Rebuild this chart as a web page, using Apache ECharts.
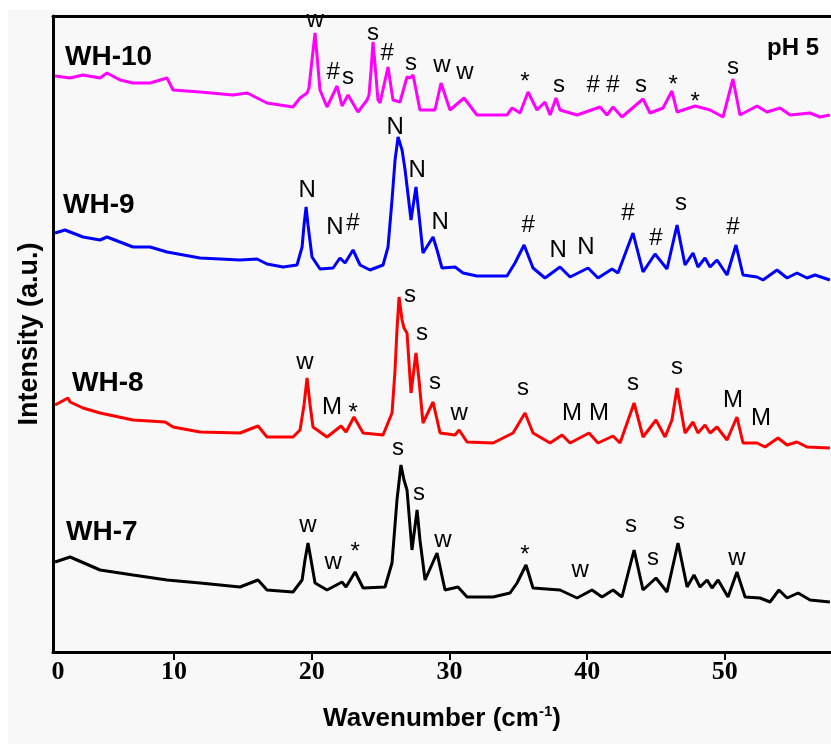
<!DOCTYPE html>
<html>
<head>
<meta charset="utf-8">
<title>WH XRD</title>
<script src="https://cdn.jsdelivr.net/npm/echarts@6.0.0/dist/echarts.min.js"></script>
<style>
  html, body { margin: 0; padding: 0; background: #fff; }
  .paper { position: absolute; left: 8px; top: 10px; width: 823px; height: 734px; background: #f8f8f8; }
  #chart { position: absolute; left: 0; top: 0; width: 831px; height: 744px; }
</style>
</head>
<body>
<div class="paper"></div>
<div id="chart"></div>
<script>
// x: wavenumber, y: intensity (a.u., traces already offset)
const wh10 = [
  [1.36, 576], [2.45, 574], [3.39, 577], [4.63, 574], [5.13, 579], [6.08, 572], [7.02, 569], [8.26, 569],
  [9.49, 574], [9.93, 562], [11.89, 560], [14.28, 557], [15.32, 559], [16.75, 549], [18.64, 545],
  [19.15, 554], [19.66, 559], [19.80, 564], [20.02, 592], [20.24, 619], [20.38, 597], [20.60, 562],
  [21.11, 545], [21.84, 566], [22.20, 546], [22.64, 557], [23.36, 540], [24.02, 552], [24.16, 557],
  [24.31, 582], [24.45, 610], [24.60, 587], [24.81, 552], [24.96, 549], [25.54, 585], [25.90, 552],
  [26.41, 550], [26.92, 575], [27.14, 574], [27.36, 577], [27.86, 542], [28.95, 542], [29.39, 569],
  [30.04, 542], [31.06, 554], [32.00, 537], [33.17, 537], [34.18, 537], [34.55, 544], [35.13, 539],
  [35.71, 560], [36.36, 542], [36.94, 550], [37.31, 537], [37.74, 554], [38.03, 542], [39.27, 537],
  [40.94, 545], [41.44, 537], [41.88, 545], [42.53, 535], [44.06, 553], [44.57, 539], [45.51, 544],
  [46.16, 561], [46.53, 540], [47.84, 546], [48.93, 542], [49.87, 535], [50.59, 573], [51.10, 537],
  [52.34, 546], [53.06, 540], [54.01, 544], [54.74, 537], [56.19, 539], [56.91, 535], [57.63, 537]
];
const wh9 = [
  [1.36, 419], [2.08, 422], [3.39, 415], [4.63, 412], [5.13, 415], [7.02, 405], [8.26, 405], [9.49, 400],
  [11.89, 394], [14.79, 392], [16.03, 393], [16.75, 388], [17.92, 385], [18.93, 387], [19.30, 405],
  [19.44, 427], [19.59, 445], [19.73, 427], [20.02, 395], [20.60, 383], [21.55, 384], [22.05, 394],
  [22.42, 389], [23.00, 402], [23.51, 387], [24.23, 382], [25.18, 387], [25.54, 405], [25.83, 452],
  [26.05, 492], [26.27, 515], [26.56, 502], [26.78, 482], [27.21, 432], [27.57, 465], [27.79, 437],
  [28.08, 399], [28.81, 415], [29.10, 402], [29.46, 384], [30.41, 385], [30.99, 379], [32.00, 376],
  [34.18, 376], [34.76, 389], [35.42, 407], [36.07, 384], [36.94, 374], [38.03, 385], [38.76, 375],
  [40.07, 384], [40.79, 374], [41.81, 383], [42.24, 379], [43.33, 419], [44.06, 380], [44.93, 398],
  [45.80, 383], [46.53, 427], [47.11, 387], [47.69, 399], [48.05, 385], [48.56, 394], [48.93, 385],
  [49.43, 392], [50.16, 377], [50.81, 407], [51.32, 377], [52.34, 375], [52.77, 372], [53.79, 382],
  [54.52, 374], [55.24, 379], [55.97, 374], [56.55, 377], [57.63, 372]
];
const wh8 = [
  [1.36, 247], [2.30, 254], [2.45, 250], [3.39, 244], [4.63, 239], [7.02, 232], [9.35, 230], [9.93, 225],
  [11.89, 220], [14.79, 219], [16.10, 226], [16.75, 215], [18.64, 215], [19.15, 222], [19.44, 247],
  [19.66, 274], [19.88, 247], [20.09, 225], [21.11, 215], [22.13, 226], [22.49, 220], [23.07, 235],
  [23.73, 219], [25.18, 217], [25.83, 239], [26.05, 282], [26.19, 322], [26.34, 355], [26.56, 332],
  [26.70, 324], [26.92, 319], [27.21, 259], [27.57, 299], [27.79, 272], [28.08, 229], [28.81, 250],
  [29.32, 219], [30.41, 217], [30.70, 222], [31.28, 210], [33.17, 209], [34.62, 219], [35.49, 239],
  [36.07, 219], [37.31, 209], [38.18, 217], [38.76, 209], [40.14, 219], [40.79, 209], [41.88, 216],
  [42.39, 209], [43.41, 249], [44.06, 215], [45.00, 232], [45.66, 215], [46.16, 232], [46.53, 264],
  [47.11, 219], [47.69, 230], [48.05, 219], [48.56, 227], [48.93, 219], [49.43, 225], [50.16, 212],
  [50.88, 235], [51.32, 209], [52.34, 209], [52.92, 205], [53.86, 214], [54.52, 207], [55.24, 210],
  [55.97, 205], [57.63, 204]
];
const wh7 = [
  [1.36, 90], [2.45, 95], [4.63, 82], [7.02, 77], [9.49, 72], [11.89, 69], [14.79, 65], [16.10, 72],
  [16.75, 62], [18.64, 60], [19.30, 72], [19.51, 92], [19.73, 109], [19.95, 92], [20.24, 69],
  [21.11, 62], [22.20, 70], [22.49, 65], [23.15, 80], [23.73, 64], [25.32, 65], [25.83, 89],
  [26.19, 152], [26.48, 187], [26.70, 172], [26.92, 162], [27.28, 102], [27.65, 142], [27.86, 112],
  [28.23, 72], [29.10, 99], [29.68, 62], [30.62, 65], [31.28, 55], [33.17, 55], [34.40, 59],
  [34.91, 69], [35.56, 87], [36.07, 64], [38.03, 62], [39.27, 54], [40.35, 62], [41.08, 55],
  [41.88, 62], [42.53, 55], [43.41, 102], [44.06, 62], [45.00, 74], [45.80, 60], [46.60, 109],
  [47.26, 65], [47.76, 77], [48.20, 65], [48.71, 72], [49.07, 64], [49.51, 72], [50.23, 55],
  [50.88, 80], [51.47, 55], [52.56, 54], [53.28, 50], [53.93, 62], [54.52, 54], [55.32, 59],
  [56.19, 52], [57.63, 50]
];

// peak marks [x, y, text]
const marks10 = [
  [20.24, 632, 'w'], [21.55, 580, '#'], [22.64, 575, 's'], [24.45, 619, 's'], [25.47, 599, '#'],
  [27.21, 589, 's'], [29.46, 587, 'w'], [31.13, 580, 'w'], [35.49, 575, '*'], [37.96, 567, 's'],
  [40.43, 567, '#'], [41.88, 567, '#'], [43.91, 567, 's'], [46.24, 572, '*'], [47.84, 555, '*'],
  [50.59, 585, 's']
];
const marks9 = [
  [19.66, 462, 'N'], [21.69, 425, 'N'], [23.00, 429, '#'], [26.05, 525, 'N'], [27.65, 482, 'N'],
  [29.32, 430, 'N'], [35.71, 427, '#'], [37.89, 402, 'N'], [39.92, 405, 'N'], [42.97, 439, '#'],
  [45.00, 414, '#'], [46.82, 449, 's'], [50.59, 425, '#']
];
const marks8 = [
  [19.51, 290, 'w'], [21.47, 245, 'M'], [23.00, 244, '*'], [27.14, 357, 's'], [28.01, 319, 's'],
  [28.95, 270, 's'], [30.70, 239, 'w'], [35.34, 264, 's'], [38.90, 239, 'M'], [40.86, 239, 'M'],
  [43.33, 269, 's'], [46.53, 285, 's'], [50.59, 252, 'M'], [52.63, 234, 'M']
];
const marks7 = [
  [19.73, 127, 'w'], [21.55, 90, 'w'], [23.15, 105, '*'], [26.27, 204, 's'], [27.79, 159, 's'],
  [29.53, 112, 'w'], [35.49, 102, '*'], [39.49, 82, 'w'], [43.19, 127, 's'], [44.79, 94, 's'],
  [46.67, 130, 's'], [50.88, 94, 'w']
];

const sampleNames = ['WH-10', 'WH-9', 'WH-8', 'WH-7'];
const sampleLabelPos = [[2.08, 595], [1.94, 447], [2.59, 269], [2.16, 120]];
const phLabel = [54.95, 604, 'pH 5'];

const tickValues = [1.21, 10, 20, 30, 40, 50];
const tickLabels = ['0', '10', '20', '30', '40', '50'];
const xMin = 1.21;
const xMax = 57.71;

const colors = ['#ff00ff', '#0000ff', '#ff0000', '#000000'];
const traces = [wh10, wh9, wh8, wh7];
const marks = [marks10, marks9, marks8, marks7];

const chart = echarts.init(document.getElementById('chart'));

const lineSeries = traces.map((d, i) => ({
  type: 'line',
  name: sampleNames[i],
  data: d,
  showSymbol: false,
  symbol: 'none',
  lineStyle: { color: colors[i], width: 3 },
  silent: true,
  z: 2
}));

const allMarks = [].concat(...marks).map(m => ({
  value: [m[0], m[1]],
  label: { formatter: m[2], offset: m[2] === '*' ? [0, 5] : [0, 0] }
}));

// scatter items default to 0.8 opacity, which would grey the text
const textSeries = {
  type: 'scatter',
  data: allMarks,
  symbolSize: 0,
  itemStyle: { opacity: 1 },
  silent: true,
  z: 5,
  label: {
    show: true,
    position: [0, 0],
    align: 'center',
    verticalAlign: 'middle',
    color: '#000',
    textBorderWidth: 0,
    fontFamily: 'Liberation Sans, Arial, sans-serif',
    fontSize: 24
  }
};

const nameSeries = {
  type: 'scatter',
  data: sampleLabelPos.map((p, i) => ({ value: p, label: { formatter: sampleNames[i] } }))
    .concat([{ value: [phLabel[0], phLabel[1]], label: { formatter: phLabel[2], align: 'center', fontSize: 24 } }]),
  symbolSize: 0,
  itemStyle: { opacity: 1 },
  silent: true,
  z: 5,
  label: {
    show: true,
    position: [0, 0],
    align: 'left',
    verticalAlign: 'middle',
    color: '#000',
    textBorderWidth: 0,
    fontWeight: 'bold',
    fontFamily: 'Liberation Sans, Arial, sans-serif',
    fontSize: 28
  }
};

chart.setOption({
  animation: false,
  grid: { left: 53, right: 0, top: 16, bottom: 92 },
  xAxis: [{
    type: 'value',
    min: xMin,
    max: xMax,
    position: 'bottom',
    axisLine: { lineStyle: { color: '#000', width: 3 } },
    axisTick: { show: true, customValues: tickValues.slice(1), length: 8, lineStyle: { color: '#000', width: 2 } },
    axisLabel: {
      customValues: tickValues,
      formatter: v => {
        const i = tickValues.indexOf(v);
        return i === 0 ? '{z|' + tickLabels[i] + '}' : tickLabels[i];
      },
      color: '#000',
      fontFamily: 'Liberation Serif, Times New Roman, serif',
      fontWeight: 'bold',
      fontSize: 26,
      margin: 7,
      rich: {
        z: { fontFamily: 'Liberation Serif, Times New Roman, serif', fontWeight: 'bold', fontSize: 26, color: '#000', padding: [0, 0, 6, 10] }
      }
    },
    splitLine: { show: false },
    name: '{t|Wavenumber (cm}{s|-1}{t|)}',
    nameLocation: 'middle',
    nameGap: 52,
    nameTextStyle: {
      rich: {
        t: { fontFamily: 'Liberation Sans, Arial, sans-serif', fontWeight: 'bold', fontSize: 26, color: '#000' },
        s: { fontFamily: 'Liberation Sans, Arial, sans-serif', fontWeight: 'bold', fontSize: 15, color: '#000', verticalAlign: 'top', padding: [0, 0, 14, 0] }
      }
    }
  }, {
    type: 'value',
    min: xMin,
    max: xMax,
    position: 'top',
    axisLine: { show: true, lineStyle: { color: '#000', width: 3 } },
    axisTick: { show: false },
    axisLabel: { show: false },
    splitLine: { show: false }
  }],
  yAxis: {
    type: 'value',
    min: 0,
    max: 636,
    axisLine: { show: true, lineStyle: { color: '#000', width: 3 } },
    axisTick: { show: false },
    axisLabel: { show: false },
    splitLine: { show: false },
    name: 'Intensity (a.u.)',
    nameLocation: 'middle',
    nameGap: 10,
    nameTextStyle: {
      fontFamily: 'Liberation Sans, Arial, sans-serif',
      fontWeight: 'bold',
      fontSize: 27,
      color: '#000'
    }
  },
  series: lineSeries.concat([textSeries, nameSeries])
});
</script>
</body>
</html>
